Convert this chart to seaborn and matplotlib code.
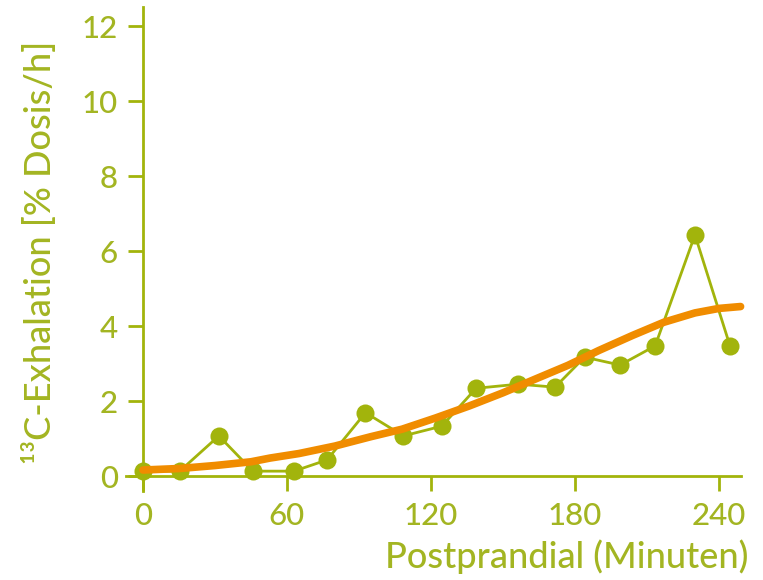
import matplotlib
matplotlib.use("Agg")
import matplotlib.pyplot as plt
import seaborn as sns
import pandas as pd

# Measured data (minutes, % dose/h)
minutes = [0.1, 15.3, 31.6, 45.8, 62.9, 76.7, 92.7, 108.5, 124.5, 138.8,
           156.4, 171.7, 184.0, 198.8, 213.4, 230.0, 244.6]
exhalation = [0.13, 0.13, 1.07, 0.13, 0.13, 0.43, 1.69, 1.07, 1.33, 2.34,
              2.45, 2.37, 3.17, 2.96, 3.47, 6.43, 3.47]

# Fitted curve
fit_minutes = [0, 15, 30, 45, 53, 65, 80, 95, 108, 122, 136, 150, 164, 177,
               190, 204, 217, 230, 240, 249]
fit_values = [0.16, 0.2, 0.28, 0.38, 0.48, 0.6, 0.8, 1.05, 1.25, 1.55, 1.87,
              2.22, 2.6, 2.95, 3.35, 3.75, 4.1, 4.35, 4.47, 4.52]

x_ticks = [0, 60, 120, 180, 240]
y_ticks = [0, 2, 4, 6, 8, 10, 12]
x_label = "Postprandial (Minuten)"
y_label = "¹³C-Exhalation [% Dosis/h]"

GREEN = "#a2b40c"
TEXT = "#a3b522"
ORANGE = "#f08c00"

sns.set_style("ticks")
plt.rcParams["font.family"] = ["Lato", "DejaVu Sans"]

df = pd.DataFrame({"t": minutes, "v": exhalation})
fit = pd.DataFrame({"t": fit_minutes, "v": fit_values})

fig = plt.figure(figsize=(7.63, 5.80), dpi=100)
ax = fig.add_axes([0.1654, 0.1534, 0.8052, 0.834])

sns.lineplot(data=df, x="t", y="v", ax=ax, color=GREEN, linewidth=2.0,
             marker="o", markersize=13, markeredgewidth=0, markerfacecolor=GREEN,
             clip_on=False, zorder=3)
sns.lineplot(data=fit, x="t", y="v", ax=ax, color=ORANGE, linewidth=5.5,
             solid_capstyle="round", clip_on=False, zorder=4)

ax.set_xlim(-7, 249)
ax.set_ylim(-0.4, 12.5)
ax.spines["left"].set_position(("data", 0))
ax.spines["bottom"].set_position(("data", 0))
for s in ["top", "right"]:
    ax.spines[s].set_visible(False)
for s in ["left", "bottom"]:
    ax.spines[s].set_color(GREEN)
    ax.spines[s].set_linewidth(2.0)

ax.set_xticks(x_ticks)
ax.set_yticks(y_ticks)
ax.tick_params(axis="both", colors=GREEN, width=2.0, length=11,
               direction="out", labelsize=22.5, labelcolor=TEXT)
ax.tick_params(axis="y", pad=7)
ax.tick_params(axis="x", pad=8)
for lab in ax.get_xticklabels() + ax.get_yticklabels():
    lab.set_fontweight("medium")

ax.set_xlabel("")
ax.set_ylabel("")
fig.text(748 / 763, 1 - 557 / 580, x_label, ha="right", va="center",
         fontsize=26, color=TEXT, fontweight="medium")
fig.text(40 / 763, 1 - 252 / 580, y_label, ha="center", va="center",
         rotation=90, fontsize=26, color=TEXT, fontweight="medium")

fig.savefig("out.png", dpi=100)
